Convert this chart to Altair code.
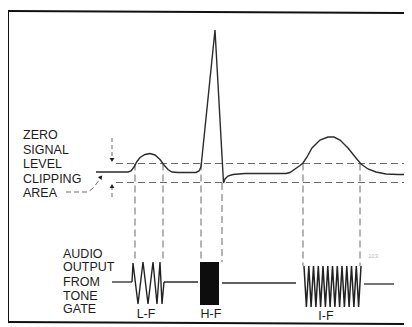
import altair as alt
import pandas as pd

# ---------------- data (diagram units: x to the right, y downward) ----------------
signal_x = [96, 128, 131, 134, 137, 140, 145, 150, 155, 160, 164, 168, 172, 178, 196, 199, 201,
            215, 223.5, 225, 228, 233, 245, 286, 290, 295, 300, 303, 307, 312, 320, 328, 334,
            340, 348, 356, 361, 368, 376, 386, 398, 404]
signal_y = [172, 172, 171, 167, 161.5, 157.5, 154.5, 153.5, 155, 159.5, 165, 169.5, 172, 172.5,
            172.5, 171, 167, 30, 183, 179, 176, 174.5, 173.5, 173.5, 172.5, 169, 165.5, 163,
            157, 148, 140, 137, 137, 140, 148, 158, 164, 169, 172, 174, 174.5, 174.5]

hdash_y = [163.5, 182.5]
hdash_x1 = [116, 116]
hdash_x2 = [404, 404]

vdash_x = [135, 163, 201, 222, 303, 360]
vdash_top = [163.5, 163.5, 163.5, 183, 163.5, 163.5]
vdash_bot = [262, 262, 262, 262, 266, 266]

lf_x = [132, 133, 138, 143, 148, 153, 157, 160, 162, 164]
lf_y = [282, 263, 304, 262, 304, 262, 304, 262, 304, 282]

hf_x1, hf_x2, hf_y1, hf_y2 = [200], [219], [262], [305]

if_x = [304, 306.4, 308.8, 311.1, 313.5, 315.9, 318.3, 320.6, 323, 325.4, 327.8, 330.1, 332.5,
        334.9, 337.3, 339.6, 342, 344.4, 346.8, 349.1, 351.5, 353.9, 356.3, 358.6, 361]
if_y = [266, 307, 266, 307, 266, 307, 266, 307, 266, 307, 266, 307, 266,
        307, 266, 307, 266, 307, 266, 307, 266, 307, 266, 307, 266]

out_x1 = [112, 164, 222, 364]
out_x2 = [132, 198, 296, 394]
out_y = [282, 282, 283, 284]

left_labels = ["ZERO", "SIGNAL", "LEVEL", "CLIPPING", "AREA"]
left_y = [135, 150, 164, 179, 193]
audio_labels = ["AUDIO", "OUTPUT", "FROM", "TONE", "GATE"]
audio_y = [254, 267, 282, 296, 309]
burst_labels = ["L-F", "H-F", "I-F"]
burst_x = [146, 211, 326]
burst_y = [314, 314, 316]

frame_id = ["top", "top", "left", "left", "bottom", "bottom"]
frame_x = [8, 404, 8, 8, 8, 404]
frame_y = [11, 13, 11, 322, 322, 324]

stem_x = [112, 112]
stem_top = [138, 186]
stem_bot = [160, 198]
head_x = [112, 112, 101]
head_y = [160, 186, 177]
head_shape = ["triangle-down", "triangle-up", "triangle-up"]
head_angle = [0, 0, 40]

leader_x = [66, 86, 92, 97, 100]
leader_y = [192, 192, 189, 183, 179]

# ---------------- chart ----------------
W, H = 396, 317
XS = alt.Scale(domain=[8, 8 + W], nice=False, zero=False)
YS = alt.Scale(domain=[8, 8 + H], nice=False, zero=False, reverse=True)
INK = "#1c1c1c"
DASH = "#6a6a6a"


def X(f="x"):
    return alt.X(f"{f}:Q", scale=XS, axis=None)


def Y(f="y"):
    return alt.Y(f"{f}:Q", scale=YS, axis=None)


frame_df = pd.DataFrame({"x": frame_x, "y": frame_y, "g": frame_id, "i": range(len(frame_x))})
frame = alt.Chart(frame_df).mark_line(color="#111", strokeWidth=2).encode(
    x=X(), y=Y(), detail="g:N", order="i:Q")

sig_df = pd.DataFrame({"x": signal_x, "y": signal_y, "i": range(len(signal_x))})
signal = alt.Chart(sig_df).mark_line(color="#2b2b2b", strokeWidth=1.4).encode(
    x=X(), y=Y(), order="i:Q")

hd_df = pd.DataFrame({"x": hdash_x1, "x2": hdash_x2, "y": hdash_y})
hdash = alt.Chart(hd_df).mark_rule(color=DASH, strokeWidth=1, strokeDash=[7, 4]).encode(
    x=X(), x2="x2:Q", y=Y())

vd_df = pd.DataFrame({"x": vdash_x, "y": vdash_top, "y2": vdash_bot})
vdash = alt.Chart(vd_df).mark_rule(color=DASH, strokeWidth=1, strokeDash=[7, 4]).encode(
    x=X(), y=Y(), y2="y2:Q")

st_df = pd.DataFrame({"x": stem_x, "y": stem_top, "y2": stem_bot})
stems = alt.Chart(st_df).mark_rule(color=DASH, strokeWidth=1, strokeDash=[4, 3]).encode(
    x=X(), y=Y(), y2="y2:Q")

hd2_df = pd.DataFrame({"x": head_x, "y": head_y, "s": head_shape, "a": head_angle})
heads = alt.Chart(hd2_df).mark_point(filled=True, color=INK, size=22, opacity=1).encode(
    x=X(), y=Y(), shape=alt.Shape("s:N", scale=None, legend=None),
    angle=alt.Angle("a:Q", scale=None))

ld_df = pd.DataFrame({"x": leader_x, "y": leader_y, "i": range(len(leader_x))})
leader = alt.Chart(ld_df).mark_line(color=DASH, strokeWidth=1, strokeDash=[5, 3],
                                    interpolate="monotone").encode(
    x=X(), y=Y(), order="i:Q")

out_df = pd.DataFrame({"x": out_x1, "x2": out_x2, "y": out_y})
outline = alt.Chart(out_df).mark_rule(color="#2b2b2b", strokeWidth=1.3).encode(
    x=X(), x2="x2:Q", y=Y())

lf_df = pd.DataFrame({"x": lf_x, "y": lf_y, "i": range(len(lf_x))})
lf = alt.Chart(lf_df).mark_line(color="#222", strokeWidth=1.4).encode(
    x=X(), y=Y(), order="i:Q")

hf_df = pd.DataFrame({"x": hf_x1, "x2": hf_x2, "y": hf_y1, "y2": hf_y2})
hf = alt.Chart(hf_df).mark_rect(color="#0d0d0d").encode(
    x=X(), x2="x2:Q", y=Y(), y2="y2:Q")

if_df = pd.DataFrame({"x": if_x, "y": if_y, "i": range(len(if_x))})
iff = alt.Chart(if_df).mark_line(color="#222", strokeWidth=1.5).encode(
    x=X(), y=Y(), order="i:Q")

txt_style = dict(font="Liberation Sans", fontSize=12.5, color=INK, baseline="middle")
lt_df = pd.DataFrame({"t": left_labels, "y": left_y, "x": [23] * len(left_labels)})
ltext = alt.Chart(lt_df).mark_text(align="left", **txt_style).encode(x=X(), y=Y(), text="t:N")

at_df = pd.DataFrame({"t": audio_labels, "y": audio_y, "x": [63] * len(audio_labels)})
atext = alt.Chart(at_df).mark_text(align="left", **txt_style).encode(x=X(), y=Y(), text="t:N")

bt_df = pd.DataFrame({"t": burst_labels, "x": burst_x, "y": burst_y})
btext = alt.Chart(bt_df).mark_text(align="center", **txt_style).encode(x=X(), y=Y(), text="t:N")

fig_df = pd.DataFrame({"t": ["103"], "x": [368], "y": [256]})
figno = alt.Chart(fig_df).mark_text(font="Liberation Sans", fontSize=6, color="#bbbbbb",
                                     align="left").encode(x=X(), y=Y(), text="t:N")

chart = alt.layer(frame, hdash, vdash, stems, leader, signal, outline, lf, hf, iff, heads,
                  ltext, atext, btext, figno).properties(
    width=W, height=H, padding=0, autosize=alt.AutoSizeParams(type="none"),
    background="white"
).configure_view(stroke=None)

chart.save("out.html", embed_options={"renderer": "svg", "actions": False})
